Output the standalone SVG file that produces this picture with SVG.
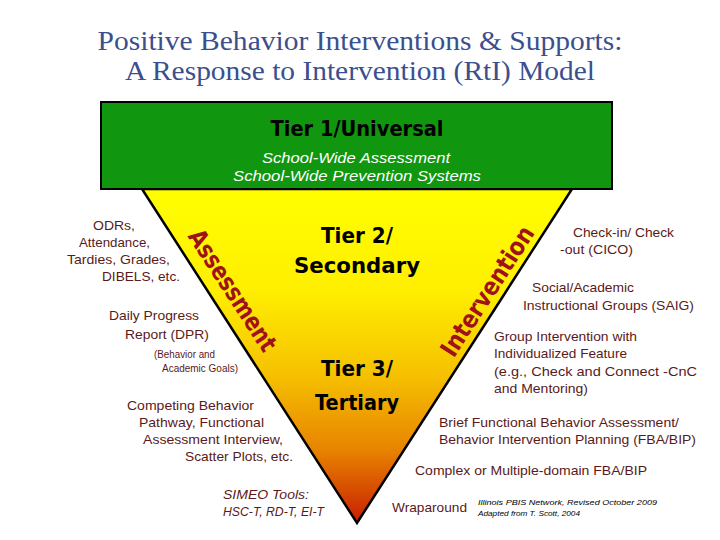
<svg xmlns="http://www.w3.org/2000/svg" width="720" height="540" viewBox="0 0 720 540">
<defs>
<linearGradient id="tri" gradientUnits="userSpaceOnUse" x1="0" y1="189" x2="0" y2="523">
<stop offset="0" stop-color="#FFFF00"/>
<stop offset="0.3" stop-color="#FFEF00"/>
<stop offset="0.55" stop-color="#F6C200"/>
<stop offset="0.78" stop-color="#E88400"/>
<stop offset="1" stop-color="#C81E00"/>
</linearGradient>
</defs>
<style>
.title{font-family:"Liberation Serif","DejaVu Serif",serif;font-size:27px;fill:#3B4F8E;text-anchor:middle}
.tier{font-family:"DejaVu Sans","Liberation Sans",sans-serif;font-weight:bold;font-size:21px;fill:#000;text-anchor:middle}
.sub{font-family:"Liberation Sans","DejaVu Sans",sans-serif;font-style:italic;font-size:14px;fill:#fff;text-anchor:middle}
.side{font-family:"Liberation Sans",Arial,sans-serif;font-size:13px;fill:#5A1A1A}
.small{font-family:"Liberation Sans",Arial,sans-serif;font-size:10px;fill:#5A1A1A}
.ital{font-family:"Liberation Sans",Arial,sans-serif;font-style:italic;font-size:13px;fill:#5A1A1A}
.foot{font-family:"Liberation Sans",Arial,sans-serif;font-style:italic;font-size:8px;fill:#000}
.rot{font-family:"DejaVu Sans","Liberation Sans",sans-serif;font-weight:bold;font-size:25px;fill:#A0121A;text-anchor:middle}
</style>
<rect width="720" height="540" fill="#fff"/>
<g id="title">
<text class="title" x="360" y="50" textLength="525" lengthAdjust="spacingAndGlyphs">Positive Behavior Interventions &amp; Supports:</text>
<text class="title" x="360" y="80" textLength="470" lengthAdjust="spacingAndGlyphs">A Response to Intervention (RtI) Model</text>
</g>
<g id="triangle">
<polygon points="142,189 572,189 357,523" fill="url(#tri)" stroke="#000" stroke-width="2.5" stroke-linejoin="miter"/>
<text class="tier" x="357" y="243" textLength="72" lengthAdjust="spacingAndGlyphs">Tier 2/</text>
<text class="tier" x="357" y="273" textLength="126" lengthAdjust="spacingAndGlyphs">Secondary</text>
<text class="tier" x="357" y="376" textLength="72" lengthAdjust="spacingAndGlyphs">Tier 3/</text>
<text class="tier" x="357" y="410" textLength="84" lengthAdjust="spacingAndGlyphs">Tertiary</text>
<text class="rot" transform="translate(233,290) rotate(57)" x="0" y="9" textLength="140" lengthAdjust="spacingAndGlyphs">Assessment</text>
<text class="rot" transform="translate(487,291) rotate(-57)" x="0" y="9" textLength="150" lengthAdjust="spacingAndGlyphs">Intervention</text>
</g>
<g id="tier1">
<rect x="101" y="102" width="511" height="87" fill="#10960F" stroke="#000" stroke-width="2"/>
<text class="tier" x="357" y="136" textLength="173" lengthAdjust="spacingAndGlyphs">Tier 1/Universal</text>
<text class="sub" x="356" y="163" textLength="188" lengthAdjust="spacingAndGlyphs">School-Wide Assessment</text>
<text class="sub" x="357" y="181" textLength="248" lengthAdjust="spacingAndGlyphs">School-Wide Prevention Systems</text>
</g>
<g id="assessment-list">
<text class="side" x="93" y="230" textLength="42" lengthAdjust="spacingAndGlyphs">ODRs,</text>
<text class="side" x="79" y="247" textLength="71" lengthAdjust="spacingAndGlyphs">Attendance,</text>
<text class="side" x="67" y="264" textLength="103" lengthAdjust="spacingAndGlyphs">Tardies, Grades,</text>
<text class="side" x="102" y="281" textLength="78" lengthAdjust="spacingAndGlyphs">DIBELS, etc.</text>
<text class="side" x="109" y="320" textLength="90" lengthAdjust="spacingAndGlyphs">Daily Progress</text>
<text class="side" x="125" y="339" textLength="84" lengthAdjust="spacingAndGlyphs">Report (DPR)</text>
<text class="small" x="154" y="358" textLength="61" lengthAdjust="spacingAndGlyphs">(Behavior and</text>
<text class="small" x="162" y="372" textLength="76" lengthAdjust="spacingAndGlyphs">Academic Goals)</text>
<text class="side" x="127" y="410" textLength="127" lengthAdjust="spacingAndGlyphs">Competing Behavior</text>
<text class="side" x="139" y="427" textLength="125" lengthAdjust="spacingAndGlyphs">Pathway, Functional</text>
<text class="side" x="143" y="444" textLength="140" lengthAdjust="spacingAndGlyphs">Assessment Interview,</text>
<text class="side" x="185" y="461" textLength="108" lengthAdjust="spacingAndGlyphs">Scatter Plots, etc.</text>
<text class="ital" x="223" y="499" textLength="86" lengthAdjust="spacingAndGlyphs">SIMEO Tools:</text>
<text class="ital" x="223" y="516" textLength="101" lengthAdjust="spacingAndGlyphs">HSC-T, RD-T, EI-T</text>
</g>
<g id="intervention-list">
<text class="side" x="573" y="237" textLength="101" lengthAdjust="spacingAndGlyphs">Check-in/ Check</text>
<text class="side" x="560" y="254" textLength="73" lengthAdjust="spacingAndGlyphs">-out (CICO)</text>
<text class="side" x="532" y="292" textLength="102" lengthAdjust="spacingAndGlyphs">Social/Academic</text>
<text class="side" x="523" y="310" textLength="171" lengthAdjust="spacingAndGlyphs">Instructional Groups (SAIG)</text>
<text class="side" x="494" y="341" textLength="143" lengthAdjust="spacingAndGlyphs">Group Intervention with</text>
<text class="side" x="494" y="358" textLength="133" lengthAdjust="spacingAndGlyphs">Individualized Feature</text>
<text class="side" x="494" y="376" textLength="203" lengthAdjust="spacingAndGlyphs">(e.g., Check and Connect -CnC</text>
<text class="side" x="494" y="393" textLength="94" lengthAdjust="spacingAndGlyphs">and Mentoring)</text>
<text class="side" x="439" y="427" textLength="240" lengthAdjust="spacingAndGlyphs">Brief Functional Behavior Assessment/</text>
<text class="side" x="439" y="444" textLength="257" lengthAdjust="spacingAndGlyphs">Behavior Intervention Planning (FBA/BIP)</text>
<text class="side" x="415" y="475" textLength="232" lengthAdjust="spacingAndGlyphs">Complex or Multiple-domain FBA/BIP</text>
<text class="side" x="392" y="512" textLength="75" lengthAdjust="spacingAndGlyphs">Wraparound</text>
</g>
<g id="footnote">
<text class="foot" x="478" y="505" textLength="179" lengthAdjust="spacingAndGlyphs">Illinois PBIS Network, Revised October 2009</text>
<text class="foot" x="478" y="516" textLength="102" lengthAdjust="spacingAndGlyphs">Adapted from T. Scott, 2004</text>
</g>
</svg>
